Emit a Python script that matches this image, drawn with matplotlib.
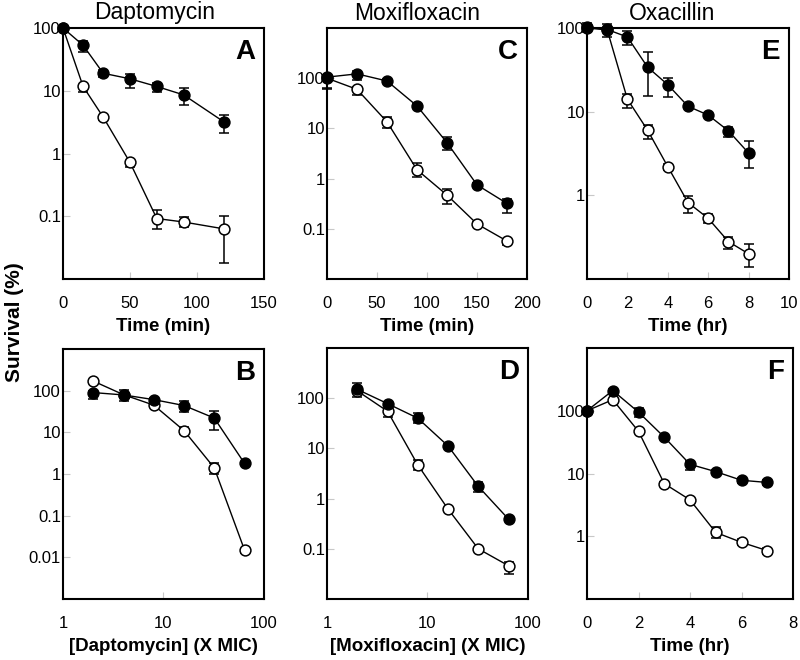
import matplotlib
matplotlib.use("Agg")
import matplotlib.pyplot as plt
from matplotlib.ticker import FixedLocator, FixedFormatter, NullLocator
import numpy as np

plt.rcParams['font.family'] = ['Liberation Sans', 'DejaVu Sans']

# ---------------- data ----------------
A_x = [0, 15, 30, 50, 70, 90, 120]
A_fill = [100, 53, 19, 15.5, 11.7, 8.6, 3.2]
A_fill_lo = [100, 42, 16.5, 11.2, 9.4, 6.0, 2.1]
A_fill_hi = [100, 62, 21.5, 18.5, 13.3, 11, 4.1]
A_open = [100, 11.7, 3.8, 0.72, 0.092, 0.081, 0.063]
A_open_lo = [100, 9.4, 3.4, 0.6, 0.063, 0.068, 0.018]
A_open_hi = [100, 11.7, 3.8, 0.72, 0.125, 0.098, 0.102]

B_x = [2, 4, 8, 16, 32, 64]
B_fill = [90, 79, 61, 44, 22, 1.8]
B_fill_lo = [63, 57, 55, 31, 11.5, 1.6]
B_fill_hi = [100, 105, 66, 58, 33, 1.9]
B_open = [170, 80, 45, 11, 1.4, 0.015]
B_open_lo = [170, 80, 45, 9, 1.0, 0.013]
B_open_hi = [170, 80, 45, 13.5, 1.8, 0.016]

C_x = [0, 30, 60, 90, 120, 150, 180]
C_fill = [105, 122, 88, 28, 5.2, 0.75, 0.32]
C_fill_lo = [60, 92, 80, 25, 3.7, 0.68, 0.21]
C_fill_hi = [115, 140, 95, 31, 6.8, 0.82, 0.4]
C_open = [100, 60, 13.5, 1.5, 0.47, 0.125, 0.057]
C_open_lo = [65, 47, 10, 1.1, 0.31, 0.115, 0.047]
C_open_hi = [100, 66, 17, 2.0, 0.61, 0.135, 0.062]

D_x = [2, 4, 8, 16, 32, 64]
D_fill = [150, 78, 40, 11.2, 1.75, 0.39]
D_fill_lo = [108, 72, 32, 10, 1.35, 0.36]
D_fill_hi = [200, 85, 50, 12, 2.1, 0.43]
D_open = [140, 55, 4.7, 0.62, 0.1, 0.046]
D_open_lo = [140, 43, 3.7, 0.58, 0.095, 0.032]
D_open_hi = [140, 70, 6.0, 0.66, 0.105, 0.055]

E_x = [0, 1, 2, 3, 4, 5, 6, 7, 8]
E_fill = [102, 96, 78, 34, 21, 11.6, 9.1, 5.9, 3.2]
E_fill_lo = [89, 79, 62, 15.5, 15, 11, 8.7, 5.0, 2.15]
E_fill_hi = [116, 113, 92, 52, 25, 12.2, 9.5, 6.6, 4.4]
E_open = [100, 95, 14.1, 6.0, 2.2, 0.82, 0.53, 0.28, 0.2]
E_open_lo = [100, 95, 11, 4.7, 2.0, 0.62, 0.47, 0.23, 0.14]
E_open_hi = [100, 95, 16.3, 6.9, 2.4, 0.98, 0.6, 0.32, 0.26]

F_x = [0, 1, 2, 3, 4, 5, 6, 7]
F_fill = [100, 210, 95, 38, 14, 10.7, 7.8, 7.2]
F_fill_lo = [100, 210, 80, 36, 11.5, 10.2, 7.0, 6.5]
F_fill_hi = [100, 225, 110, 40, 16, 11.2, 8.5, 7.9]
F_open = [100, 150, 47, 6.9, 3.8, 1.15, 0.8, 0.59]
F_open_lo = [100, 150, 44, 6.6, 3.6, 0.95, 0.72, 0.53]
F_open_hi = [100, 150, 50, 7.2, 4.0, 1.4, 0.9, 0.65]

titles = ["Daptomycin", "Moxifloxacin", "Oxacillin"]
xlabels_top = ["Time (min)", "Time (min)", "Time (hr)"]
xlabels_bot = ["[Daptomycin] (X MIC)", "[Moxifloxacin] (X MIC)", "Time (hr)"]

# ---------------- figure ----------------
W, H = 800, 660
fig = plt.figure(figsize=(W / 100, H / 100), dpi=100)

def add_ax(x0, x1, y0, y1):
    return fig.add_axes([x0 / W, 1 - y1 / H, (x1 - x0) / W, (y1 - y0) / H])

def draw(ax, x, op, op_lo, op_hi, fi, fi_lo, fi_hi):
    for y, lo, hi, fc in [(op, op_lo, op_hi, 'white'), (fi, fi_lo, fi_hi, 'black')]:
        y = np.array(y, float)
        err = np.vstack([y - np.array(lo, float), np.array(hi, float) - y])
        ax.errorbar(x, y, yerr=err, fmt='none', ecolor='black', elinewidth=1.1,
                    capsize=3.5, capthick=1.1, clip_on=False, zorder=2)
        ax.plot(x, y, '-', color='black', lw=1.0, marker='o', markersize=7.8,
                markerfacecolor=fc, markeredgecolor='black', markeredgewidth=1.1,
                clip_on=False, zorder=3)

def style(ax, letter, yticks, ylim, xlim, xticks, xticklabels, xlabel, logx=False):
    ax.set_yscale('log')
    if logx:
        ax.set_xscale('log')
    ax.set_ylim(*ylim)
    ax.set_xlim(*xlim)
    ax.yaxis.set_major_locator(FixedLocator(yticks))
    ax.yaxis.set_major_formatter(FixedFormatter([('%g' % t) for t in yticks]))
    ax.yaxis.set_minor_locator(NullLocator())
    ax.xaxis.set_major_locator(FixedLocator(xticks))
    ax.xaxis.set_major_formatter(FixedFormatter(xticklabels))
    ax.xaxis.set_minor_locator(NullLocator())
    ax.tick_params(direction='in', length=5, width=0.8, color='#c8c8c8',
                   labelsize=12)
    ax.tick_params(axis='x', pad=12)
    ax.tick_params(axis='y', pad=1.5)
    for s in ax.spines.values():
        s.set_linewidth(1.5)
    ax.set_xlabel(xlabel, fontsize=13.5, fontweight='bold', labelpad=5.5)
    ax.text(0.955, 0.955, letter, transform=ax.transAxes, ha='right', va='top',
            fontsize=20, fontweight='bold')

axA = add_ax(63, 264, 28, 279)
draw(axA, A_x, A_open, A_open_lo, A_open_hi, A_fill, A_fill_lo, A_fill_hi)
style(axA, 'A', [0.1, 1, 10, 100], (0.01, 100), (0, 150),
      [0, 50, 100, 150], ['0', '50', '100', '150'], xlabels_top[0])

axC = add_ax(327, 527, 28, 279)
draw(axC, C_x, C_open, C_open_lo, C_open_hi, C_fill, C_fill_lo, C_fill_hi)
style(axC, 'C', [0.1, 1, 10, 100], (0.01, 1000), (0, 200),
      [0, 50, 100, 150, 200], ['0', '50', '100', '150', '200'], xlabels_top[1])

axE = add_ax(587, 789, 28, 279)
draw(axE, E_x, E_open, E_open_lo, E_open_hi, E_fill, E_fill_lo, E_fill_hi)
style(axE, 'E', [1, 10, 100], (0.1, 100), (0, 10),
      [0, 2, 4, 6, 8, 10], ['0', '2', '4', '6', '8', '10'], xlabels_top[2])

axB = add_ax(63, 264, 349, 599)
draw(axB, B_x, B_open, B_open_lo, B_open_hi, B_fill, B_fill_lo, B_fill_hi)
style(axB, 'B', [0.01, 0.1, 1, 10, 100], (0.001, 1000), (1, 100),
      [1, 10, 100], ['1', '10', '100'], xlabels_bot[0], logx=True)

axD = add_ax(327, 528, 348, 599)
draw(axD, D_x, D_open, D_open_lo, D_open_hi, D_fill, D_fill_lo, D_fill_hi)
style(axD, 'D', [0.1, 1, 10, 100], (0.01, 1000), (1, 100),
      [1, 10, 100], ['1', '10', '100'], xlabels_bot[1], logx=True)

axF = add_ax(587, 793, 348, 599)
draw(axF, F_x, F_open, F_open_lo, F_open_hi, F_fill, F_fill_lo, F_fill_hi)
style(axF, 'F', [1, 10, 100], (0.1, 1000), (0, 8),
      [0, 2, 4, 6, 8], ['0', '2', '4', '6', '8'], xlabels_bot[2])

for t, cx in zip(titles, [155, 417, 672]):
    fig.text(cx / W, 1 - 13 / H, t, ha='center', va='center', fontsize=16.5)

fig.text(14 / W, 1 - 322 / H, 'Survival (%)', rotation=90, ha='center',
         va='center', fontsize=15, fontweight='bold')

fig.savefig('out.png', dpi=100)
